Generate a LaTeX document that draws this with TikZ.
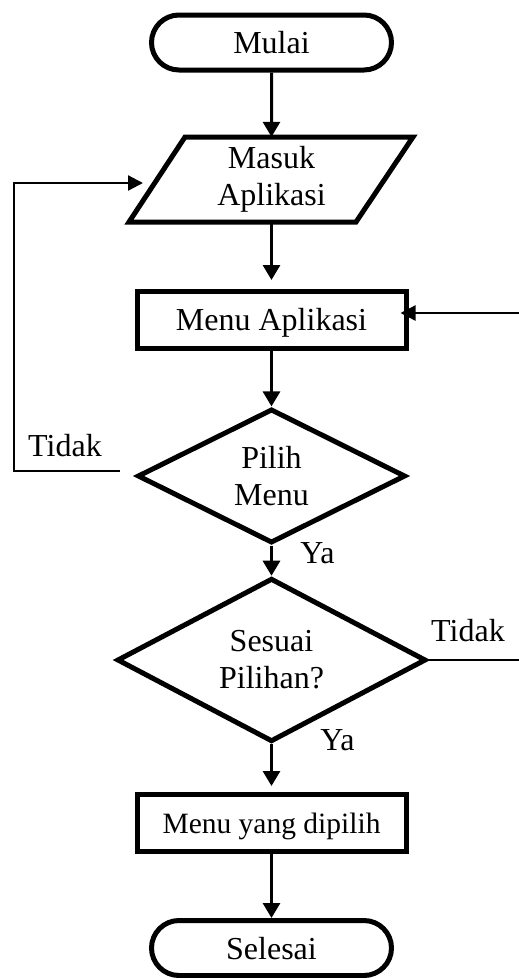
\documentclass[tikz,border=0pt]{standalone}
\usepackage{fontspec}
\setmainfont{Liberation Serif}
\usetikzlibrary{shapes.geometric,shapes.misc,arrows.meta,calc}
\begin{document}
\begin{tikzpicture}[x=1pt,y=-1pt,
  every node/.style={font=\fontsize{32}{37}\selectfont, inner sep=0pt},
  shapeline/.style={draw, line width=5pt},
  terminal/.style={shapeline, rounded rectangle, minimum width=240pt, minimum height=55pt, text depth=0pt},
  process/.style={shapeline, rectangle, minimum width=269pt, minimum height=57pt, text depth=0pt},
  decision/.style={shapeline, diamond, align=center},
  flow/.style={line width=3pt, -{Triangle[length=15pt,width=17pt]}},
  backline/.style={line width=2.3pt},
  backarrow/.style={backline, -{Triangle[length=15pt,width=15pt]}},
  edgetext/.style={text depth=0pt}
]
\useasboundingbox (0,0) rectangle (519,978);

% start
\node[terminal] (mulai) at (271.5,42.5) {Mulai};

% input: parallelogram outline with its text node
\draw[line width=5pt, line join=miter] (185,137) -- (413,137) -- (356,222) -- (129,222) -- cycle;
\node[minimum height=85pt, align=center] (masuk) at (271.5,179.5) {Masuk\\Aplikasi};

% application menu
\node[process] (menu) at (271.5,319.5) {Menu Aplikasi};

% decisions
\node[decision, minimum width=268pt, minimum height=132pt] (pilih) at (271.5,476) {Pilih\\Menu};
\node[decision, minimum width=309pt, minimum height=128pt] (sesuai) at (271.5,660) {Sesuai\\Pilihan?};

% chosen menu and end
\node[process, font=\fontsize{29.5}{35}\selectfont] (dipilih) at (271.5,823) {Menu yang dipilih};
\node[terminal] (selesai) at (271.5,948) {Selesai};

% main flow
\draw[flow] (mulai) -- (masuk.north);
\draw[flow, shorten >=8.5pt] (masuk.south) -- (menu);
\draw[flow] (menu) -- (pilih);
\draw[flow] (pilih) -- (sesuai);
\draw[flow, shorten >=6pt] (sesuai) -- (dipilih);
\draw[flow] (dipilih) -- (selesai);

% "Tidak" loop back to the input
\coordinate (tidakL) at ($(pilih.west)+(-15,-5)$);
\coordinate (masukin) at (143,183);
\draw[backarrow] (tidakL) -- (14,471) |- (masukin);

% "Tidak" branch from the second decision, returning to the menu
\coordinate (rightin) at (525,313);
\coordinate (menuin) at ($(menu.east)+(-8,-6.5)$);
\draw[backarrow] (rightin) -- (menuin);
\draw[backline] (sesuai.east) -- ++(110,0);

% branch labels
\node[edgetext] (tidak1) at (65,445) {Tidak};
\node[edgetext] (ya1) at (317.5,553) {Ya};
\node[edgetext] (ya2) at (337.5,740.5) {Ya};
\node[edgetext] (tidak2) at (468,630.5) {Tidak};
\end{tikzpicture}
\end{document}
